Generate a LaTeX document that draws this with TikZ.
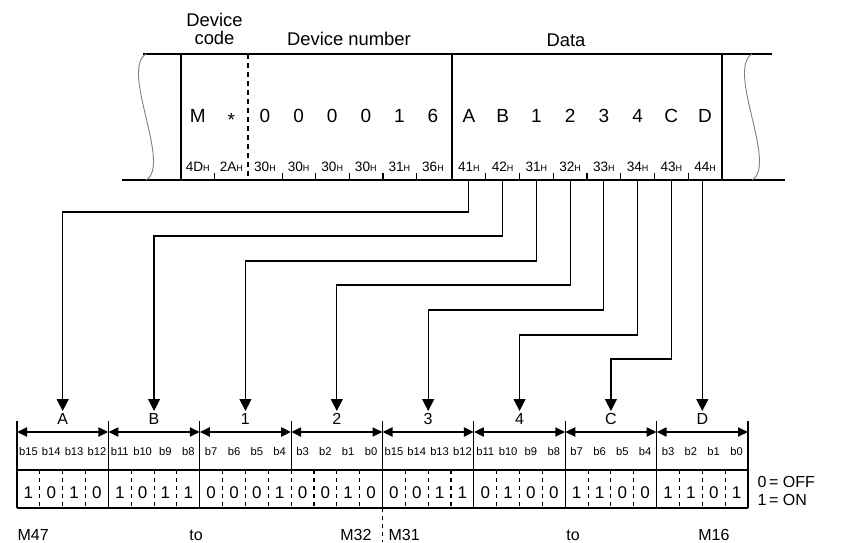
\documentclass[tikz,border=0pt]{standalone}
\usepackage{fontspec}
\setmainfont{Liberation Sans}
\usetikzlibrary{arrows.meta}
\newcommand{\hexH}[1]{#1{\fontsize{4.5}{5}\selectfont H}}

\begin{document}
\begin{tikzpicture}[x=0.5pt,y=-0.5pt,line width=0.55pt,
  hdr/.style={inner sep=0pt,font=\fontsize{9.2}{9}\selectfont},
  chr/.style={anchor=base,inner sep=0pt,font=\fontsize{9.5}{10}\selectfont},
  hexlbl/.style={anchor=base,inner sep=0pt,font=\fontsize{6.8}{7}\selectfont},
  grp/.style={anchor=north,inner sep=1pt,font=\fontsize{8}{9}\selectfont},
  bitlbl/.style={anchor=base,inner sep=0pt,font=\fontsize{5.6}{6}\selectfont},
  digit/.style={anchor=base,inner sep=0pt,font=\fontsize{8.5}{9}\selectfont},
  mlbl/.style={anchor=base,inner sep=0pt,font=\fontsize{8}{9}\selectfont},
  conn/.style={line width=0.6pt,-{Triangle[width=6pt,length=6pt]}},
  bitspan/.style={line width=1pt,{Triangle[width=4.5pt,length=5pt]}-{Triangle[width=4.5pt,length=5pt]}},
  dsep/.style={dash pattern=on 2pt off 2pt},
  brk/.style={gray,line width=0.45pt}]
\useasboundingbox (0,0) rectangle (853,542);

\node[hdr,align=center,anchor=north] (devcode) at (214.5,13) {Device\\code};
\node[hdr,anchor=base] (devnum) at (349,45) {Device number};
\node[hdr,anchor=base] (data) at (566,46) {Data};

\draw (143,54) -- (772,54);
\draw (122,180) -- (785,180);
\draw (181,54) -- (181,180);
\draw (452,54) -- (452,180);
\draw (722,54) -- (722,180);
\draw[dash pattern=on 2.5pt off 2pt] (248,54) -- (248,180);
\draw[brk] (146,54) .. controls (120,70) and (172,165) .. (146,180);
\draw[brk] (752,54) .. controls (726,70) and (778,165) .. (752,180);
\foreach \x in {214.6,282.2,315.8,349.4,383,416.6,485.75,519.5,553.25,587,620.75,654.5,688.25}
  \draw (\x,173) -- (\x,180);
\coordinate (fb) at (0,180);

\foreach \ch/\hx [count=\i] in {M/4D,{\raisebox{-2pt}{*}}/2A,0/30,0/30,0/30,0/30,1/31,6/36}{
  \node[chr] (c\i) at (164.2+33.6*\i,122) {\ch};
  \node[hexlbl] (hc\i) at (164.2+33.6*\i,171) {\hexH{\hx}};
}
\foreach \ch/\hx [count=\i] in {A/41,B/42,1/31,2/32,3/33,4/34,C/43,D/44}{
  \node[chr] (d\i) at (435.1+33.75*\i,122) {\ch};
  \node[hexlbl] (hd\i) at (435.1+33.75*\i,171) {\hexH{\hx}};
}

\foreach \g/\lab/\ba/\bb/\bc/\bd in {0/A/1/0/1/0,1/B/1/0/1/1,2/1/0/0/0/1,3/2/0/0/1/0,4/3/0/0/1/1,5/4/0/1/0/0,6/C/1/1/0/0,7/D/1/1/0/1}{
  \pgfmathsetmacro{\xl}{17+91.375*\g}
  \pgfmathtruncatemacro{\gi}{\g+1}
  \pgfmathtruncatemacro{\tb}{15-4*mod(\g,4)}
  \node[grp] (g\gi) at (\xl+45.69,411) {\lab};
  \coordinate (s\g) at (\xl,432);
  \foreach \d [count=\k from 0] in {\ba,\bb,\bc,\bd}{
    \pgfmathtruncatemacro{\bn}{\tb-\k}
    \node[bitlbl] (b\g\k) at (\xl+11.42+22.84*\k,455) {b\bn};
    \node[digit] (v\g\k) at (\xl+11.42+22.84*\k,498) {\d};
  }
  \foreach \k in {1,2,3}
    \draw[dsep] (\xl+22.84*\k,470) -- (\xl+22.84*\k,508);
}
\coordinate (s8) at (748,432);
\foreach \j [count=\n] in {0,...,7}
  \draw[bitspan] (s\j) -- (s\n);
\foreach \j in {0,...,8}
  \draw (17+91.375*\j,421) -- (17+91.375*\j,470);
\foreach \j in {0,1,2,4,5,6,7,8}
  \draw (17+91.375*\j,470) -- (17+91.375*\j,508);
\draw[dsep] (291.1,470) -- (291.1,508);
\draw (17,470) -- (748,470);
\draw (17,508) -- (748,508);
\draw[dsep] (382.5,508) -- (382.5,542);

\foreach \i/\lvl in {1/32,2/56,3/81,4/105,5/130,6/155,7/179}
  \draw[conn] (d\i |- fb) -- ++(0,\lvl) -| (g\i.north);
\draw[conn] (g8.north |- fb) -- (g8.north);

\node[mlbl,anchor=base west] (m47) at (17,540) {M47};
\node[mlbl] (to1) at (196,540) {to};
\node[mlbl,anchor=base east] (m32) at (372,540) {M32};
\node[mlbl,anchor=base west] (m31) at (388,540) {M31};
\node[mlbl] (to2) at (573,540) {to};
\node[mlbl,anchor=base east] (m16) at (730,540) {M16};
\node[mlbl,anchor=base west] (off) at (757,487) {0\,= OFF};
\node[mlbl,anchor=base west] (on) at (757,505) {1\,= ON};
\end{tikzpicture}
\end{document}
